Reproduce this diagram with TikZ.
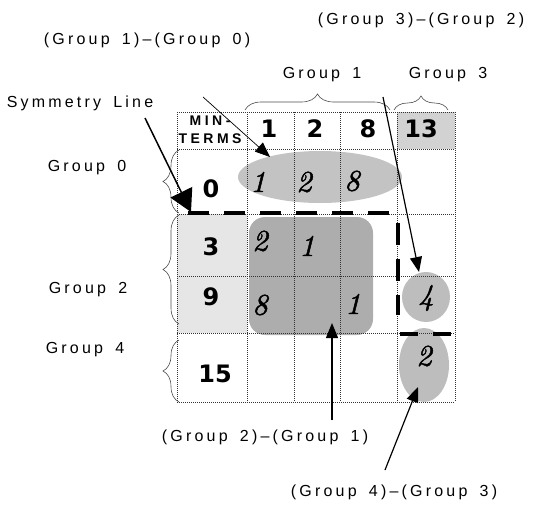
\documentclass[tikz,border=0pt]{standalone}
\usepackage{fontspec}
\usetikzlibrary{shapes.geometric,arrows.meta,decorations.pathreplacing}
\newfontfamily\lblfont[LetterSpace=20,WordSpace=1.6]{Liberation Sans}
\newfontfamily\hdrfont[LetterSpace=25]{Liberation Sans}
\newfontfamily\numfont{DejaVu Sans}
\newfontfamily\handfont{lmroman10-italic}[Extension=.otf,FakeBold=1.6]
\definecolor{cellgray}{HTML}{E6E6E6}
\definecolor{headgray}{HTML}{D2D2D2}
\definecolor{ovalgray}{HTML}{C3C3C3}
\definecolor{boxgray}{HTML}{ADADAD}
\definecolor{dotgray}{HTML}{333333}
\begin{document}
\begin{tikzpicture}[x=1pt,y=-1pt,
  lbl/.style={font=\lblfont\fontsize{16}{18}\selectfont, inner sep=0pt},
  hdr/.style={font=\hdrfont\bfseries\fontsize{14}{16}\selectfont, inner sep=0pt},
  num/.style={font=\numfont\bfseries\fontsize{24}{26}\selectfont, inner sep=0pt},
  hand/.style={font=\handfont\fontsize{30}{32}\selectfont, inner sep=0pt},
  blob/.style={ellipse, fill=ovalgray, inner sep=0pt},
  gridline/.style={draw=dotgray, line width=0.7pt, dash pattern=on 1pt off 1pt},
  symline/.style={line width=4pt},
  ptr/.style={line width=1.2pt, -{Triangle[length=15pt,width=12pt]}},
  brc/.style={decorate, decoration={brace, amplitude=16pt}, draw=black!70, line width=0.6pt}
]
\useasboundingbox (0,0) rectangle (533,504);

% shaded cells
\fill[cellgray] (177,214) rectangle (247,333);
\fill[headgray] (397,112) rectangle (455,149);

% groupings of ones
\node[blob, minimum width=164pt, minimum height=52pt] (e0) at (320,177) {};
\node[fill=boxgray, rounded corners=16pt, inner sep=0pt, minimum width=124pt, minimum height=118pt] (b21) at (311,276) {};
\node[blob, fill=ovalgray!97!black, minimum width=48pt, minimum height=50pt] (c4) at (426,297) {};
\node[blob, fill=ovalgray!97!black, minimum width=50pt, minimum height=74pt] (c2) at (424,365) {};

% grid
\foreach \x in {177,247,294,340,397,455} \draw[gridline] (\x,112) -- (\x,402);
\foreach \y in {112,149,214,276,333,402} \draw[gridline] (177,\y) -- (455,\y);

% column heads
\node[hdr] (mt1) at (210,121) {MIN-};
\node[hdr] (mt2) at (210,138.5) {TERMS};
\node[num] (h1) at (269,129) {1};
\node[num] (h2) at (315,129) {2};
\node[num] (h8) at (368,129) {8};
\node[num] (h13) at (421,129) {13};

% row heads
\node[num] (r0) at (211,189) {0};
\node[num] (r3) at (211,247) {3};
\node[num] (r9) at (211,297) {9};
\node[num] (r15) at (215,374) {15};

% entries
\node[hand] (a1) at (258,182) {1};
\node[hand] (a2) at (304,182) {2};
\node[hand] (a8) at (352,181) {8};
\node[hand] (b2) at (260,241) {2};
\node[hand] (b1) at (307,246) {1};
\node[hand] (c8) at (260,305) {8};
\node[hand] (c1) at (353,304) {1};
\node[hand] (d4) at (426,298) {4};
\node[hand] (d2) at (424,356) {2};

% symmetry line segments
\draw[symline, dash pattern=on 21pt off 15pt] (188,213) -- (390,213);
\draw[symline, dash pattern=on 22pt off 14pt] (398,223) -- (398,315);
\draw[symline, dash pattern=on 18pt off 15pt] (400,334) -- (453,334);

% braces
\draw[brc] (245,110) -- (390,110);
\draw[brc, decoration={amplitude=14pt}] (394,110) -- (448,110);
\draw[brc] (179,213) -- (179,150);
\draw[brc] (179,324) -- (179,215);
\draw[brc] (179,402) -- (179,340);

% labels
\node[lbl] (lg10) at (147,40) {(Group 1)–(Group 0)};
\node[lbl] (lg32) at (421,20) {(Group 3)–(Group 2)};
\node[lbl] (lgc1) at (322,75) {Group 1};
\node[lbl] (lgc3) at (448,75) {Group 3};
\node[lbl] (lsym) at (80,103) {Symmetry Line};
\node[lbl] (lg0) at (87,168) {Group 0};
\node[lbl] (lg2) at (88,290) {Group 2};
\node[lbl] (lg4) at (85,350) {Group 4};
\node[lbl] (lg21) at (265,437) {(Group 2)–(Group 1)};
\node[lbl] (lg43) at (394,492) {(Group 4)–(Group 3)};

% pointer ends
\coordinate (s0) at (145,118);
\coordinate (s1) at (191,212);
\coordinate (p10) at (203,97);
\coordinate (q10) at (270,157);
\coordinate (p32) at (383,97);
\coordinate (q32) at (419,272);
\coordinate (p21) at (332,420);
\coordinate (q21) at (332,323);
\coordinate (p43) at (385,470);
\coordinate (q43) at (418,387);

% pointers
\draw[line width=1.5pt, -{Triangle[length=22pt,width=24pt]}] (s0) -- (s1);
\draw[ptr, line width=0.7pt] (p10) -- (q10);
\draw[ptr] (p32) -- (q32);
\draw[ptr] (p21) -- (q21);
\draw[ptr] (p43) -- (q43);
\end{tikzpicture}
\end{document}
